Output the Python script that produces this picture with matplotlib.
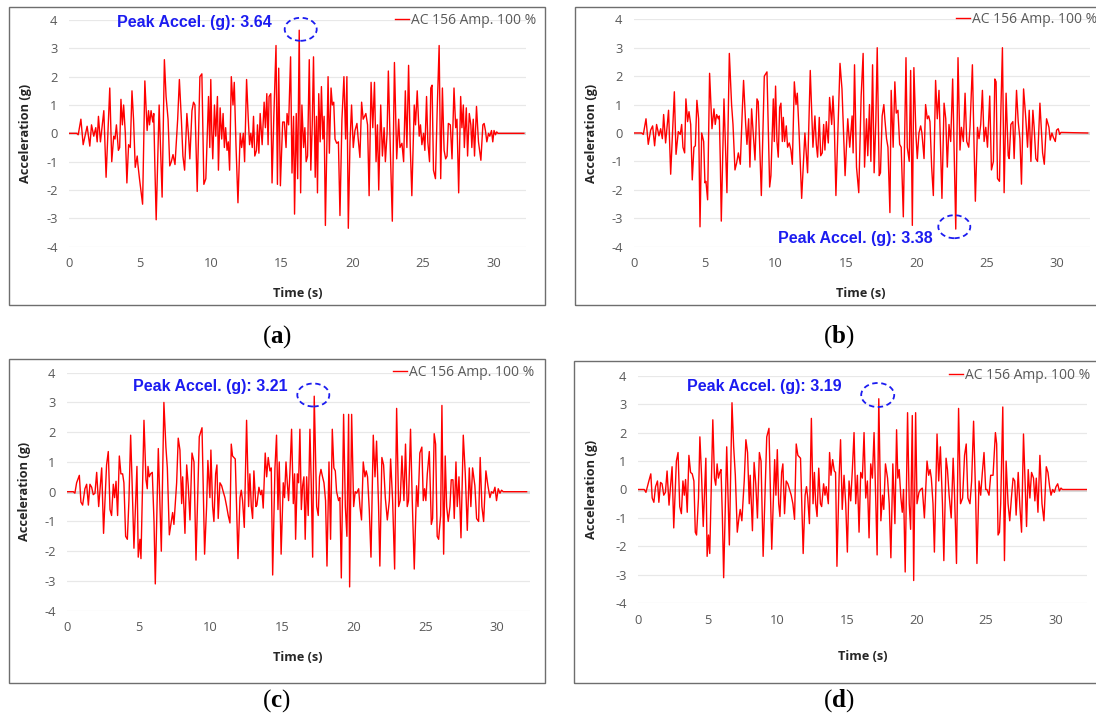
import matplotlib
matplotlib.use('Agg')
import matplotlib.pyplot as plt
from matplotlib.patches import Ellipse, Rectangle

plt.rcParams['font.family'] = ['Open Sans', 'DejaVu Sans']
plt.rcParams['mathtext.fontset'] = 'custom'
plt.rcParams['mathtext.rm'] = 'Liberation Serif'
plt.rcParams['mathtext.bf'] = 'Liberation Serif:bold'

# ---------------------------------------------------------
# Data (time in s, accel in g)
# ---------------------------------------------------------
a_time = [0, 0.52, 0.63, 0.82, 0.98, 1.26, 1.45, 1.57, 1.73, 1.87, 1.97, 2.06, 2.2, 2.44, 2.6, 2.86, 3.0,
          3.14, 3.23, 3.33, 3.47, 3.56, 3.65, 3.75, 3.84, 3.96, 4.07, 4.19, 4.31, 4.43, 4.54, 4.66, 4.8,
          4.85, 4.96, 5.18, 5.34, 5.5, 5.6, 5.67, 5.78, 5.9, 5.97, 6.04, 6.14, 6.35, 6.56, 6.72, 6.84,
          6.98, 7.1, 7.21, 7.33, 7.47, 7.66, 7.78, 7.92, 8.03, 8.15, 8.31, 8.43, 8.52, 8.67, 8.78, 8.88,
          9.04, 9.23, 9.37, 9.51, 9.65, 9.84, 9.93, 10.0, 10.07, 10.14, 10.26, 10.35, 10.47, 10.54, 10.66,
          10.77, 10.87, 10.96, 11.05, 11.15, 11.24, 11.33, 11.45, 11.57, 11.66, 11.78, 11.92, 12.08, 12.18,
          12.3, 12.39, 12.53, 12.65, 12.74, 12.83, 12.93, 13.02, 13.11, 13.23, 13.3, 13.4, 13.49, 13.63,
          13.77, 13.86, 13.96, 14.05, 14.12, 14.24, 14.33, 14.45, 14.61, 14.71, 14.8, 14.92, 15.08, 15.2,
          15.32, 15.39, 15.5, 15.64, 15.74, 15.85, 15.92, 16.04, 16.14, 16.25, 16.35, 16.44, 16.56, 16.65,
          16.74, 16.84, 16.96, 17.07, 17.17, 17.26, 17.38, 17.47, 17.54, 17.63, 17.73, 17.82, 17.92, 18.01,
          18.1, 18.29, 18.38, 18.5, 18.59, 18.69, 18.78, 18.9, 19.02, 19.13, 19.27, 19.41, 19.53, 19.62,
          19.72, 19.84, 19.95, 20.07, 20.19, 20.33, 20.42, 20.54, 20.66, 20.77, 20.87, 20.96, 21.08, 21.19,
          21.33, 21.45, 21.57, 21.68, 21.78, 21.87, 22.01, 22.13, 22.25, 22.34, 22.46, 22.55, 22.69, 22.83,
          22.98, 23.14, 23.28, 23.37, 23.51, 23.63, 23.75, 23.86, 23.98, 24.1, 24.21, 24.38, 24.47, 24.59,
          24.73, 24.82, 24.92, 25.04, 25.13, 25.25, 25.34, 25.46, 25.55, 25.64, 25.74, 25.88, 26.0, 26.14,
          26.25, 26.37, 26.49, 26.6, 26.7, 26.79, 26.93, 27.05, 27.19, 27.31, 27.4, 27.52, 27.66, 27.75,
          27.85, 27.92, 28.06, 28.15, 28.27, 28.38, 28.45, 28.55, 28.64, 28.78, 28.92, 29.09, 29.23, 29.32,
          29.41, 29.51, 29.63, 29.72, 29.84, 29.93, 30.02, 30.12, 30.21, 30.3, 32.13]
a_accel = [0, 0, -0.05, 0.5, -0.4, 0.25, -0.45, 0.3, -0.1, 0.2, -0.3, 0.6, -0.3, 0.8, -1.55, 1.6, -1.0,
           -0.1, -0.2, 0.3, -0.6, -0.5, 1.2, 0.3, 1.0, 0.0, -1.75, -0.4, -0.5, 1.5, 0.5, -1.2, -0.8,
           -1.1, -1.6, -2.5, 1.85, 0.1, 0.8, 0.3, 0.8, 0.4, 0.7, -1.0, -3.05, 1.0, -2.25, 2.6, 1.3,
           0.5, -1.15, -1.0, -0.75, -1.1, 0.5, 1.9, 0.5, -0.8, -1.3, 0.7, -0.1, -0.9, 0.8, 1.1, 1.0,
           -2.05, 2.0, 2.1, -1.8, -1.6, 1.3, -0.5, 1.9, 0.1, -0.9, 1.0, -0.1, 1.3, -1.3, 0.9,
           -0.2, 0.7, -0.5, 0.2, -0.6, -0.3, -1.3, 2.0, 1.0, 1.8, -0.4, -2.45, 0.0, -0.5,
           0.0, -1.0, 1.9, 0.5, -0.4, 0.0, -0.5, 0.6, -0.8, -0.6, 0.3, -0.7, 0.7, -0.4,
           1.1, 0.2, 1.4, -0.4, 1.3, 1.4, -1.75, 0.5, 3.1, -1.8, 2.3, -1.85, 0.4, 0.4,
           -0.5, 0.7, 0.3, 2.7, -1.4, 0.6, -2.85, 0.7, -1.6, 3.64, -2.1, 1.0, -0.5, 0.2,
           -1.0, -0.8, 2.6, -1.3, 0.3, 2.7, -1.55, 0.6, -2.1, 1.4, -0.3, 1.65, -0.2, 0.6,
           -3.25, 2.0, -0.7, 1.6, 1.0, 1.1, -0.2, -0.35, -0.3, -2.9, 0.5, 2.0, -0.2, 2.0,
           -3.35, -0.3, 1.0, -0.5, 0.1, 0.35, -0.2, -0.85, 1.1, 0.5, 0.6, 0.7, 0.3, -2.2,
           1.8, 0.2, 1.8, -1.0, 0.3, -2.0, 1.0, -0.8, 0.2, -1.0, 0.0, 2.2, -0.6, -3.1,
           2.5, -0.9, 0.5, -0.5, -0.35, -1.0, 1.5, -0.5, 2.4, -0.5, -2.2, 1.0, 0.3, 1.5,
           -0.1, 0.3, -0.4, 0.0, -0.6, 1.3, -0.3, -1.0, 1.6, 1.7, -1.3, -1.6, 0.8, 3.1,
           -1.6, 1.6, -0.6, -0.9, -0.8, 0.35, 0.3, -0.9, 1.6, 0.2, 0.5, -2.1, 1.3, 0.2,
           1.0, -0.5, 0.9, -0.8, 0.7, 0.3, -0.5, 0.5, -0.8, 0.95, -0.3, -0.95, 0.3, 0.35,
           0.1, -0.3, 0.0, -0.1, 0.1, -0.3, 0.1, -0.05, 0.05, 0.0, 0.0]

b_time = [0, 0.52, 0.64, 0.83, 0.99, 1.16, 1.3, 1.44, 1.58, 1.75, 1.87, 1.99, 2.08, 2.22, 2.43, 2.58, 2.84,
          2.96, 3.12, 3.26, 3.36, 3.45, 3.57, 3.66, 3.78, 3.88, 4.0, 4.11, 4.23, 4.33, 4.44, 4.56, 4.66,
          4.78, 4.92, 5.01, 5.08, 5.2, 5.34, 5.51, 5.65, 5.74, 5.84, 5.96, 6.03, 6.1, 6.17, 6.36, 6.57,
          6.74, 6.9, 7.0, 7.14, 7.26, 7.38, 7.52, 7.66, 7.75, 7.9, 7.99, 8.11, 8.2, 8.32, 8.46, 8.56,
          8.7, 8.79, 9.01, 9.22, 9.41, 9.6, 9.69, 9.86, 9.93, 10.02, 10.12, 10.21, 10.31, 10.4, 10.5,
          10.57, 10.66, 10.78, 10.87, 10.99, 11.11, 11.21, 11.35, 11.47, 11.56, 11.68, 11.87, 12.1, 12.29,
          12.48, 12.67, 12.81, 12.91, 13.0, 13.12, 13.22, 13.33, 13.43, 13.52, 13.62, 13.76, 13.85, 14.0,
          14.09, 14.18, 14.3, 14.59, 14.73, 14.95, 15.14, 15.28, 15.45, 15.52, 15.62, 15.76, 15.92, 16.09,
          16.23, 16.33, 16.47, 16.56, 16.68, 16.78, 16.9, 17.01, 17.13, 17.23, 17.37, 17.46, 17.58, 17.7,
          17.77, 17.89, 17.99, 18.13, 18.22, 18.36, 18.48, 18.58, 18.7, 18.82, 18.93, 19.08, 19.27, 19.36,
          19.5, 19.6, 19.72, 19.83, 19.98, 20.07, 20.19, 20.31, 20.4, 20.55, 20.66, 20.78, 20.88, 20.97,
          21.09, 21.21, 21.37, 21.49, 21.61, 21.73, 21.82, 21.97, 22.09, 22.2, 22.32, 22.44, 22.58, 22.68,
          22.8, 22.96, 23.1, 23.2, 23.34, 23.46, 23.58, 23.72, 23.81, 23.98, 24.1, 24.19, 24.34, 24.45,
          24.57, 24.69, 24.81, 24.93, 25.05, 25.21, 25.33, 25.47, 25.57, 25.66, 25.76, 25.9, 26.0, 26.11,
          26.23, 26.37, 26.52, 26.59, 26.71, 26.85, 26.94, 27.11, 27.23, 27.35, 27.46, 27.61, 27.77, 27.89,
          28.01, 28.13, 28.27, 28.36, 28.48, 28.6, 28.77, 28.96, 29.08, 29.24, 29.41, 29.5, 29.62, 29.72,
          29.86, 29.95, 30.07, 30.17, 30.26, 32.16]
b_accel = [0, 0, -0.05, 0.5, -0.4, 0.1, 0.25, -0.45, 0.3, -0.1, 0.15, -0.2, 0.65, -0.35, 0.8, -1.45, 1.45,
           -0.75, 0.05, -0.05, 0.3, -0.5, -0.7, 1.2, 0.4, 0.75, 0.3, -1.65, -0.5, -0.45, 1.15, 0.5, -3.3,
           0.0, -0.3, -1.75, -1.7, -2.35, 2.1, 0.15, 0.85, 0.3, 0.65, 0.5, 0.6, -1.0, -3.1, 1.2, -2.1,
           2.8, 1.0, 0.3, -1.3, -1.05, -0.7, -1.1, 0.8, 1.85, 0.3, -0.4, 0.5, -1.2, 0.85, -0.2, -0.95,
           1.2, 1.1, -2.2, 2.0, 2.15, -1.9, -1.5, 1.2, -0.3, 1.65, -0.3, -0.85, 0.9, 1.05, -0.3,
           0.55, -0.3, 0.25, -0.5, -0.35, -0.6, -1.1, 1.8, 1.0, 1.4, 0.1, -2.3, 0.0, -1.4,
           2.2, -0.5, 0.6, -0.4, -0.85, 0.55, -0.8, -0.7, 0.3, -0.6, 0.4, -0.35, 1.25, 0.3,
           1.3, 0.4, -2.2, 2.45, 1.55, -1.5, 0.5, -0.5, 0.6, -0.7, 2.4, -1.2, -2.1, 1.3,
           2.8, -1.2, 0.5, -0.8, 1.0, -1.0, 2.4, -1.4, 0.4, 3.0, -1.5, -1.4, 0.6, 1.0,
           0.5, -0.2, -0.5, -2.8, 1.5, -0.5, 1.8, 0.7, 0.8, -0.4, -0.5, -2.95, 2.65, -0.5,
           -1.0, 2.2, -3.25, 2.3, -0.1, -0.9, 0.0, 0.25, 0.0, -0.9, 1.0, 0.5, 0.6, 0.4,
           -1.2, -2.2, 1.85, 0.5, 1.5, -0.6, -2.3, 1.05, 0.5, -1.2, 0.3, -0.3, 1.9, -0.5,
           -3.38, 2.65, -0.6, 0.2, -0.3, 1.4, -0.3, -0.5, 0.2, 2.4, -0.5, -2.4, 0.2, -0.2,
           0.3, 1.5, -0.3, 0.2, -0.5, 1.3, -1.3, -1.0, 1.9, 1.8, -1.6, -1.7, 0.8, 3.0,
           -2.1, 1.4, -0.8, -0.9, 0.3, 0.4, -0.9, 1.5, 0.4, -0.2, -1.8, 1.55, 0.5, -0.5,
           0.8, -1.0, 0.8, 0.2, -0.9, -1.0, 1.05, -0.7, -1.1, 0.5, 0.2, -0.25, 0.0, -0.15,
           -0.3, 0.1, 0.15, -0.05, 0.02, 0.0]

c_time = [0, 0.42, 0.53, 0.65, 0.84, 0.95, 1.07, 1.23, 1.35, 1.47, 1.58, 1.7, 1.81, 1.93, 2.05, 2.19, 2.4,
          2.53, 2.74, 2.86, 2.98, 3.09, 3.21, 3.3, 3.4, 3.51, 3.63, 3.74, 3.86, 3.95, 4.07, 4.19, 4.3,
          4.42, 4.51, 4.65, 4.86, 4.95, 5.07, 5.14, 5.35, 5.49, 5.58, 5.63, 5.72, 5.81, 5.93, 6.05, 6.14,
          6.35, 6.56, 6.74, 6.88, 6.98, 7.12, 7.26, 7.35, 7.44, 7.63, 7.74, 7.86, 7.98, 8.05, 8.21, 8.33,
          8.44, 8.56, 8.7, 8.84, 8.98, 9.21, 9.4, 9.58, 9.72, 9.81, 9.95, 10.02, 10.14, 10.23, 10.35,
          10.44, 10.53, 10.65, 10.77, 10.88, 11.0, 11.12, 11.23, 11.35, 11.44, 11.53, 11.72, 11.81, 11.91,
          12.05, 12.14, 12.23, 12.35, 12.51, 12.65, 12.74, 12.84, 12.93, 13.02, 13.16, 13.23, 13.37, 13.49,
          13.58, 13.67, 13.81, 13.91, 14.02, 14.14, 14.23, 14.33, 14.49, 14.6, 14.7, 14.79, 14.92, 15.07,
          15.16, 15.26, 15.35, 15.44, 15.53, 15.65, 15.77, 15.86, 15.93, 16.05, 16.14, 16.23, 16.33, 16.42,
          16.51, 16.6, 16.7, 16.81, 16.93, 17.02, 17.12, 17.23, 17.4, 17.51, 17.6, 17.7, 17.81, 17.91,
          18.02, 18.12, 18.26, 18.37, 18.49, 18.6, 18.7, 18.79, 18.93, 19.02, 19.12, 19.28, 19.4, 19.51,
          19.63, 19.7, 19.84, 19.98, 20.09, 20.19, 20.33, 20.42, 20.53, 20.65, 20.77, 20.86, 20.95, 21.07,
          21.19, 21.35, 21.47, 21.58, 21.72, 21.81, 21.95, 22.07, 22.19, 22.33, 22.47, 22.56, 22.7, 22.84,
          22.98, 23.12, 23.23, 23.35, 23.49, 23.6, 23.72, 23.81, 23.95, 24.07, 24.21, 24.37, 24.47, 24.6,
          24.74, 24.84, 24.93, 25.02, 25.12, 25.26, 25.4, 25.49, 25.6, 25.7, 25.81, 25.91, 26.05, 26.14,
          26.26, 26.37, 26.47, 26.58, 26.7, 26.79, 26.91, 27.0, 27.12, 27.21, 27.33, 27.47, 27.63, 27.77,
          27.91, 28.05, 28.16, 28.28, 28.44, 28.56, 28.7, 28.81, 28.93, 29.05, 29.21, 29.35, 29.49, 29.6,
          29.72, 29.84, 29.95, 30.07, 30.19, 30.3, 30.42, 32.05]
c_accel = [0, 0, -0.05, 0.3, 0.55, -0.35, -0.45, 0.1, 0.25, -0.45, 0.25, 0.15, -0.1, -0.05, 0.65, -0.5, 0.8,
           -1.4, 0.9, 1.35, -0.6, -0.8, 0.25, -0.2, 0.35, -0.8, 1.2, 0.6, 0.6, 0.3, -1.5, -1.6, -0.3,
           1.9, 0.5, -1.9, 0.85, -2.2, -1.6, -2.25, 2.4, 0.4, 0.1, 0.85, 0.5, 0.6, 0.65, -1.0, -3.1,
           1.45, -2.0, 3.0, 1.5, 0.8, -1.45, -1.0, -0.7, -1.1, 0.3, 1.8, 1.4, -0.4, 0.5, -1.4, 0.9,
           0.2, -0.95, 1.3, 1.0, -2.3, 1.85, 2.15, -2.1, -0.5, 1.05, -0.2, 1.4, -0.5, -1.0, 0.6,
           0.9, -0.9, 0.3, 0.2, 0.0, -0.2, -0.5, -0.8, -1.05, 1.6, 1.2, 1.1, -0.5, -2.25,
           -0.2, 0.05, -0.3, -1.2, 2.4, -0.5, 0.6, -0.5, -0.9, 0.7, -0.5, -0.45, 0.15, -0.1,
           0.05, -0.55, 1.3, 0.5, 1.15, 0.7, 0.8, -2.8, 0.8, 1.9, -0.6, 1.0, -2.1, 0.3,
           -0.2, 1.0, 0.3, -0.3, 0.6, 2.1, -0.4, 0.6, -1.6, 0.6, 0.3, 2.1, -0.6, 0.2,
           0.5, -1.6, 0.5, -0.8, 2.1, 0.3, -2.2, 3.21, -0.5, -0.8, 0.5, 0.75, 0.5, 0.3,
           -0.3, -2.5, 1.0, -1.6, 2.1, 0.8, 0.7, 0.0, -0.3, -0.2, -2.9, 2.6, -0.5, -1.5,
           2.6, -3.2, 2.6, -0.5, 0.0, -0.05, 0.1, -0.5, -0.95, 1.0, 0.5, 0.7, 0.5, -0.6,
           -2.2, 1.9, 0.5, 1.7, -0.5, -2.5, 1.15, 0.9, -0.2, -0.95, -0.3, 1.1, -0.3, -2.6,
           2.8, -0.5, -0.3, 1.2, -0.3, 1.6, -0.5, -0.3, 2.1, -0.3, -2.6, 0.2, -0.5, 1.3,
           1.5, -0.3, 0.1, -0.3, 0.6, 1.35, -1.1, -0.9, 1.95, 1.6, -1.5, -1.6, -0.8, 2.9,
           -2.1, 1.2, -0.5, -1.0, -0.5, 0.4, 0.4, -0.9, 1.0, -0.5, 0.5, -1.55, 1.9, 0.6,
           -1.3, 0.8, -0.5, 0.8, 0.2, -0.9, -1.0, 1.15, -0.5, -1.0, 0.7, 0.2, -0.2, 0.0,
           -0.05, 0.15, -0.3, 0.1, -0.05, 0.05, 0.0, 0.0]

d_time = [0, 0.43, 0.55, 0.76, 0.9, 1.0, 1.12, 1.24, 1.38, 1.48, 1.6, 1.71, 1.83, 1.95, 2.07, 2.21, 2.43,
          2.55, 2.74, 2.86, 2.98, 3.1, 3.21, 3.31, 3.4, 3.52, 3.64, 3.76, 3.88, 4.0, 4.1, 4.19, 4.33,
          4.43, 4.55, 4.67, 4.86, 4.95, 5.05, 5.14, 5.36, 5.48, 5.57, 5.67, 5.76, 5.86, 5.95, 6.05, 6.14,
          6.36, 6.55, 6.74, 6.86, 6.98, 7.12, 7.24, 7.33, 7.45, 7.62, 7.74, 7.86, 7.98, 8.05, 8.21, 8.33,
          8.45, 8.57, 8.71, 8.83, 8.98, 9.24, 9.4, 9.6, 9.71, 9.81, 9.9, 10.0, 10.1, 10.19, 10.31,
          10.4, 10.52, 10.64, 10.76, 10.88, 11.0, 11.12, 11.24, 11.36, 11.48, 11.67, 11.76, 11.86, 12.0,
          12.1, 12.19, 12.31, 12.45, 12.57, 12.67, 12.76, 12.86, 12.98, 13.1, 13.19, 13.33, 13.43, 13.52,
          13.67, 13.76, 13.86, 13.98, 14.1, 14.19, 14.29, 14.45, 14.55, 14.67, 14.8, 14.92, 15.04, 15.16,
          15.28, 15.4, 15.52, 15.64, 15.76, 15.88, 16.0, 16.12, 16.24, 16.36, 16.48, 16.6, 16.72, 16.84,
          16.96, 17.08, 17.18, 17.3, 17.45, 17.57, 17.66, 17.78, 17.93, 18.05, 18.17, 18.31, 18.46, 18.58,
          18.67, 18.77, 18.89, 18.99, 19.08, 19.2, 19.37, 19.49, 19.59, 19.71, 19.81, 19.95, 20.05, 20.19,
          20.31, 20.43, 20.58, 20.77, 20.89, 20.99, 21.08, 21.2, 21.3, 21.49, 21.61, 21.73, 21.88, 21.98,
          22.14, 22.24, 22.36, 22.51, 22.65, 22.75, 22.89, 23.04, 23.18, 23.33, 23.47, 23.59, 23.71, 23.86,
          23.98, 24.12, 24.27, 24.36, 24.51, 24.63, 24.75, 24.87, 24.99, 25.08, 25.23, 25.35, 25.52, 25.69,
          25.78, 25.88, 25.98, 26.07, 26.22, 26.34, 26.46, 26.6, 26.72, 26.84, 26.96, 27.08, 27.18, 27.33,
          27.45, 27.57, 27.71, 27.81, 27.93, 28.05, 28.17, 28.29, 28.43, 28.53, 28.63, 28.75, 28.89, 29.04,
          29.18, 29.35, 29.47, 29.59, 29.69, 29.81, 29.93, 30.05, 30.17, 30.29, 30.41, 30.51, 32.27]
d_accel = [0, 0, -0.1, 0.3, 0.55, -0.3, -0.45, 0.1, 0.3, -0.45, 0.25, 0.2, -0.2, -0.1, 0.65, -0.55, 0.8,
           -1.35, 1.0, 1.3, -0.6, -0.85, 0.3, -0.2, 0.35, -0.8, 1.2, 0.6, 0.55, 0.3, -1.5, -1.6, -0.3,
           1.85, 0.5, -1.3, 1.1, -2.35, -1.6, -2.25, 2.45, 0.4, 0.15, 0.9, 0.4, 0.6, 0.7, -1.0, -3.1,
           1.5, -1.95, 3.05, 1.5, 0.5, -1.5, -1.0, -0.7, -1.1, 0.3, 1.75, 1.3, -0.5, 0.5, -1.45, 0.95,
           0.2, -1.0, 1.3, 1.0, -2.35, 1.85, 2.15, -2.1, -0.5, 1.05, -0.2, 1.4, -0.5, -0.95, 0.6,
           0.9, -0.85, 0.3, 0.2, 0.0, -0.2, -0.5, -1.05, 1.6, 1.2, 1.1, -0.5, -2.25, -0.2,
           0.1, -0.3, -1.2, 2.5, -0.5, 0.6, -0.5, -0.95, 0.75, -0.5, -0.6, 0.2, -0.2, 0.1,
           -0.5, 1.3, 0.5, 1.05, 0.65, 0.6, -2.7, 0.5, 1.75, -0.7, 0.5, -0.5, -2.2, 0.3,
           -0.4, 0.7, 2.0, -0.5, 0.5, -1.5, 0.6, 0.4, 2.0, -0.3, 0.3, -1.7, 0.9, 0.4,
           2.0, -0.3, -2.3, 3.19, -1.1, -0.2, -0.7, 0.9, 0.4, -0.5, -2.4, 0.9, -1.2, 2.1,
           0.4, 0.7, -0.3, -0.8, 0.0, -2.9, 2.7, -0.5, -1.4, 2.6, -3.2, 2.7, -0.5, -0.1,
           0.0, 0.05, -1.0, 1.0, 0.5, 0.7, 0.4, -0.5, -2.2, 1.95, 0.3, 1.5, -0.5, -2.5,
           1.1, 0.7, -0.2, -1.0, 1.1, -0.2, -2.6, 2.85, -0.5, -0.3, 1.2, 1.6, -0.3, -0.5,
           0.3, 2.4, -0.3, -2.6, 0.3, -0.2, 0.6, 1.3, 0.0, 0.0, -0.2, 0.5, 0.5, 2.0,
           1.6, -1.6, -1.5, -0.5, 2.9, -2.5, 1.0, -0.5, -1.1, -0.3, 0.4, 0.3, -0.9, 0.6,
           -0.6, -1.5, 1.95, 0.5, -1.3, 0.7, -0.3, 0.6, 0.4, -0.4, 0.4, -0.8, 1.2, -0.5,
           -1.1, 0.8, 0.6, 0.1, -0.2, 0.0, -0.1, 0.1, 0.2, -0.05, 0.05, 0.0, 0.0]

series_label = 'AC 156 Amp. 100 %'
peak_labels = ['Peak Accel. (g): 3.64', 'Peak Accel. (g): 3.38',
               'Peak Accel. (g): 3.21', 'Peak Accel. (g): 3.19']
captions = ['a', 'b', 'c', 'd']
y_ticks = [-4, -3, -2, -1, 0, 1, 2, 3, 4]
x_ticks = [0, 5, 10, 15, 20, 25, 30]

W, H = 1096, 719
fig = plt.figure(figsize=(W / 100, H / 100), dpi=100)


def px_rect(left, top, right, bottom):
    return [left / W, 1 - bottom / H, (right - left) / W, (bottom - top) / H]


# axes boxes in pixels: left, top(4 g), right, bottom(-4 g)
panels = [
    dict(t=a_time, g=a_accel, box=(69.3, 20, 526.3, 246.7), frame=(9, 7, 545, 305),
         peak_xy=(194, 22), ell=(300.7, 29.3, 32, 23), leg_x=536, ylab=31.7, xlab=(298, 287),
         cap=(276.7, 337)),
    dict(t=b_time, g=b_accel, box=(634.3, 19.3, 1089.7, 246.7), frame=(575, 7, 1110, 305),
         peak_xy=(855, 238), ell=(954.3, 226.7, 32, 23), leg_x=1097, ylab=597.7, xlab=(861, 287),
         cap=(839, 337)),
    dict(t=c_time, g=c_accel, box=(67.3, 372.7, 530.2, 610.7), frame=(9, 359, 545, 683),
         peak_xy=(210, 386), ell=(313.3, 395, 32, 23), leg_x=534, ylab=30.7, xlab=(298, 651),
         cap=(276.7, 701)),
    dict(t=d_time, g=d_accel, box=(638.3, 375.7, 1087.3, 603.3), frame=(574, 361, 1110, 683),
         peak_xy=(764, 387), ell=(877.7, 395, 33, 24), leg_x=1090, ylab=598.3, xlab=(862.5, 650),
         cap=(839, 701)),
]

for i, p in enumerate(panels):
    fl, ft, fr, fb = p['frame']
    fig.patches.append(Rectangle((fl / W, 1 - fb / H), (fr - fl) / W, (fb - ft) / H,
                                 transform=fig.transFigure, fill=False,
                                 edgecolor='#6e6e6e', linewidth=1.0))

    l, t, r, b = p['box']
    ax = fig.add_axes(px_rect(l, t, r, b))
    ax.set_facecolor('none')
    ax.plot(p['t'], p['g'], color='#ff0000', linewidth=1.0, label=series_label, zorder=3)
    ax.set_xlim(0, 32.3)
    ax.set_ylim(-4, 4)
    ax.set_xticks(x_ticks)
    ax.set_yticks(y_ticks)
    ax.set_yticklabels([str(v) for v in y_ticks])
    for s in ax.spines.values():
        s.set_visible(False)
    ax.grid(axis='y', color='#e8e8e8', linewidth=0.9)
    ax.set_axisbelow(True)
    ax.axhline(0, color='#d9d9d9', linewidth=2.2, zorder=1)
    ax.tick_params(length=0, labelsize=9.3, labelcolor='#595959')
    ax.tick_params(axis='x', pad=7.5)
    ax.tick_params(axis='y', pad=8.5)

    ax.set_ylabel('Acceleration (g)', fontsize=9.2, fontweight='bold', color='#262626')
    ax.yaxis.set_label_coords((p['ylab'] - l) / (r - l), 0.5)
    ax.set_xlabel('Time (s)', fontsize=9.2, fontweight='bold', color='#262626')
    ax.xaxis.set_label_coords((p['xlab'][0] - l) / (r - l), -(p['xlab'][1] - b) / (b - t))

    leg = ax.legend(loc='center right', bbox_to_anchor=((p['leg_x'] - l) / (r - l), 1.0),
                    frameon=False, fontsize=10, handlelength=1.0, handletextpad=0.15,
                    borderpad=0, borderaxespad=0)
    for txt in leg.get_texts():
        txt.set_color('#595959')

    fig.text(p['peak_xy'][0] / W, 1 - p['peak_xy'][1] / H, peak_labels[i],
             ha='center', va='center', fontsize=11.5, fontweight='bold', color='#1c1cf0',
             family='Liberation Sans')
    ex, ey, ew, eh = p['ell']
    fig.patches.append(Ellipse((ex / W, 1 - ey / H), ew / W, eh / H, transform=fig.transFigure,
                               fill=False, edgecolor='#1c1cf0', linestyle=(0, (3, 2)),
                               linewidth=1.3))

    fig.text(p['cap'][0] / W, 1 - p['cap'][1] / H, r'($\mathbf{' + captions[i] + r'}$)',
             ha='center', va='center', fontsize=18, family='Liberation Serif', color='black')

fig.savefig('out.png', dpi=100)
